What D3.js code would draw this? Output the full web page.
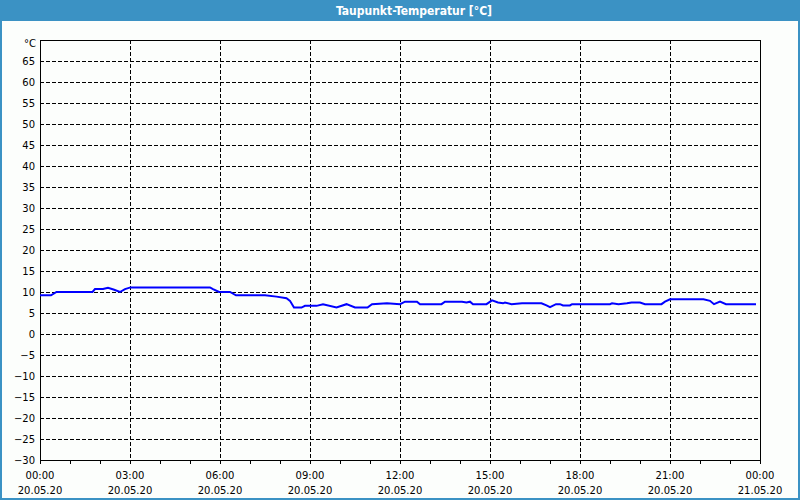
<!DOCTYPE html>
<html>
<head>
<meta charset="utf-8">
<script src="https://cdn.jsdelivr.net/npm/d3@7"></script>
<style>
  html, body { margin: 0; padding: 0; background: #fcfefc; }
  svg { display: block; }
</style>
</head>
<body>
<svg id="chart"></svg>
<script>
const title = "Taupunkt-Temperatur [°C]";
const unit = "°C";
// hours since 20.05.20 00:00
const hours = [0, 0.36, 0.55, 1.75, 1.83, 2.1, 2.27, 2.45, 2.67, 2.83, 3.02, 5.67, 5.77, 5.97,
  6.33, 6.53, 7.5, 7.89, 8.22, 8.33, 8.47, 8.72, 8.83, 9.22, 9.44, 9.89, 10.22, 10.5, 10.91,
  11.06, 11.56, 12.0, 12.17, 12.56, 12.67, 13.39, 13.5, 14.06, 14.22, 14.33, 14.44, 14.89,
  15.06, 15.27, 15.43, 15.5, 15.72, 16.06, 16.72, 16.89, 17.0, 17.2, 17.33, 17.44, 17.67,
  17.73, 19.0, 19.07, 19.28, 19.56, 19.72, 20.0, 20.17, 20.72, 20.83, 21.0, 22.11, 22.33,
  22.47, 22.67, 22.87, 23.87];
const dewPoint = [9.2, 9.2, 10.0, 10.0, 10.7, 10.7, 11.0, 10.6, 10.0, 10.7, 11.1, 11.1, 10.7, 10.0,
  10.0, 9.2, 9.2, 8.9, 8.5, 7.9, 6.3, 6.3, 6.7, 6.7, 7.1, 6.3, 7.1, 6.3, 6.3,
  7.1, 7.3, 7.1, 7.7, 7.7, 7.1, 7.1, 7.7, 7.7, 7.5, 7.7, 7.1, 7.1,
  8.0, 7.5, 7.3, 7.5, 7.1, 7.3, 7.3, 6.8, 6.4, 7.1, 7.1, 6.8, 6.8,
  7.1, 7.1, 7.3, 7.1, 7.3, 7.5, 7.5, 7.1, 7.1, 7.7, 8.25, 8.25, 7.9,
  7.1, 7.7, 7.1, 7.1];
const yTicks = [-30, -25, -20, -15, -10, -5, 0, 5, 10, 15, 20, 25, 30, 35, 40, 45, 50, 55, 60, 65];

const width = 800, height = 500;
const start = new Date(2020, 4, 20, 0, 0);
const end = new Date(2020, 4, 21, 0, 0);
const margin = { top: 40, right: 40, bottom: 40, left: 40 };
const blue = "#3b92c4";

const svg = d3.select("#chart").attr("width", width).attr("height", height);

// title bar + frame
svg.append("rect").attr("x", 0).attr("y", 0).attr("width", width).attr("height", 21).attr("fill", blue);
svg.append("text")
  .attr("x", 414).attr("y", 15)
  .attr("text-anchor", "middle")
  .attr("fill", "#fff")
  .attr("font-family", "DejaVu Sans Condensed")
  .attr("font-weight", "bold")
  .attr("font-size", 12)
  .text(title);
svg.append("path")
  .attr("d", `M1,21 V${height - 1} H${width - 1} V21`)
  .attr("fill", "none").attr("stroke", blue).attr("stroke-width", 2);

const x = d3.scaleTime().domain([start, end]).range([margin.left, width - margin.right]);
const y = d3.scaleLinear().domain([-30, 70]).range([height - margin.bottom, margin.top]);

const g = svg.append("g").attr("font-family", "DejaVu Sans").attr("font-size", 10).attr("fill", "#000");

// horizontal grid
g.selectAll(".hgrid")
  .data(yTicks.filter(d => d > -30))
  .enter().append("line")
  .attr("x1", margin.left).attr("x2", width - margin.right)
  .attr("y1", d => Math.round(y(d)) + 0.5).attr("y2", d => Math.round(y(d)) + 0.5)
  .attr("stroke", "#000").attr("stroke-dasharray", "4,2");

// vertical grid every 3 hours
const majorTimes = d3.timeHour.every(3).range(start, d3.timeHour.offset(end, 1));
g.selectAll(".vgrid")
  .data(majorTimes.filter(d => d > start && d < end))
  .enter().append("line")
  .attr("x1", d => Math.round(x(d)) + 0.5).attr("x2", d => Math.round(x(d)) + 0.5)
  .attr("y1", margin.top).attr("y2", height - margin.bottom)
  .attr("stroke", "#000").attr("stroke-dasharray", "4,2");

// frame
g.append("rect")
  .attr("x", margin.left + 0.5).attr("y", margin.top + 0.5)
  .attr("width", width - margin.left - margin.right)
  .attr("height", height - margin.top - margin.bottom)
  .attr("fill", "none").attr("stroke", "#000");

// y labels
const yAxis = d3.axisLeft(y).tickValues(yTicks).tickSize(0).tickPadding(5);
const ya = g.append("g").attr("transform", `translate(${margin.left},0)`).call(yAxis);
ya.select(".domain").remove();
ya.selectAll("text").attr("font-family", "DejaVu Sans").attr("font-size", 10).attr("fill", "#000");
g.append("text")
  .attr("x", margin.left - 4).attr("y", y(70) + 7)
  .attr("text-anchor", "end")
  .text(unit);

// hourly minor ticks
const hourTimes = d3.timeHour.every(1).range(start, d3.timeHour.offset(end, 1));
g.selectAll(".mtick")
  .data(hourTimes)
  .enter().append("line")
  .attr("x1", d => Math.round(x(d)) + 0.5).attr("x2", d => Math.round(x(d)) + 0.5)
  .attr("y1", height - margin.bottom).attr("y2", height - margin.bottom + 4)
  .attr("stroke", "#000");

// x labels, two lines
const timeFmt = d3.timeFormat("%H:%M");
const dateFmt = d3.timeFormat("%d.%m.%y");
const xl = g.selectAll(".xlab")
  .data(majorTimes)
  .enter().append("text")
  .attr("text-anchor", "middle")
  .attr("x", d => x(d));
xl.append("tspan").attr("x", d => x(d)).attr("y", 479).text(d => timeFmt(d));
xl.append("tspan").attr("x", d => x(d)).attr("y", 494).text(d => dateFmt(d));

// data line
const line = d3.line()
  .x((d, i) => x(d3.timeMinute.offset(start, Math.round(hours[i] * 60))))
  .y(d => y(d));
svg.append("path")
  .datum(dewPoint)
  .attr("d", line)
  .attr("fill", "none")
  .attr("stroke", "#0000ff")
  .attr("stroke-width", 2);
</script>
</body>
</html>
